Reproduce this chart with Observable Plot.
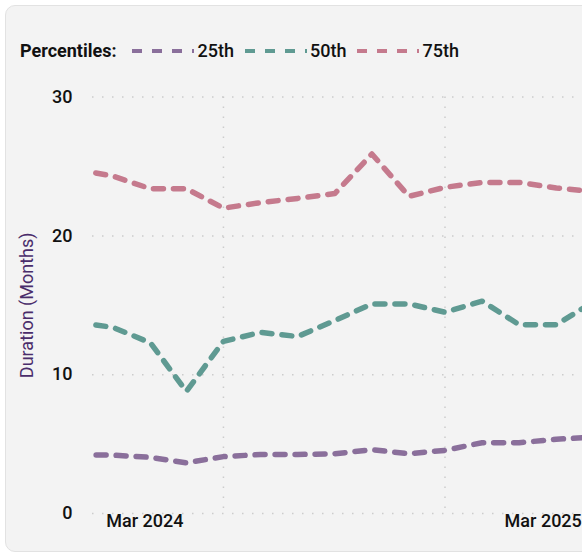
<!DOCTYPE html>
<html>
<head>
<meta charset="utf-8">
<script src="https://cdn.jsdelivr.net/npm/d3@7"></script>
<script src="https://cdn.jsdelivr.net/npm/@observablehq/plot@0.6"></script>
<style>
  html, body { margin: 0; padding: 0; background: #ffffff; width: 582px; height: 558px; overflow: hidden; }
  #card { position: absolute; left: 5px; top: 5px; width: 640px; height: 547px; background: #f3f3f3;
          border: 1.5px solid #e2e2e2; border-radius: 10px; box-sizing: border-box; }
  #legend { position: absolute; left: 20px; top: 41px; height: 20px; display: flex; align-items: center;
            font-family: Roboto, sans-serif; font-size: 18px; font-weight: 500; color: #111; line-height: 20px; }
  #legend .title { font-weight: bold; margin-right: 16px; }
  #legend .item { display: flex; align-items: center; margin-right: 11px; }
  #legend .item svg { margin-right: 3px; }
  #chart { position: absolute; left: 0; top: 70px; }
  #chart g[aria-label="y-axis tick label"] text, #chart g[aria-label="x-axis tick label"] text { font-weight: 500; }
  #chart g[aria-label="y-axis label"] text { fill: #4a2d6b; }
</style>
</head>
<body>
<div id="card"></div>
<div id="legend"></div>
<div id="chart"></div>
<script>
// Data
const dates = ["2023-12-29","2024-02-01","2024-03-06","2024-04-08","2024-05-12","2024-06-15","2024-07-19",
               "2024-08-22","2024-09-25","2024-10-29","2024-12-01","2025-01-04","2025-02-07","2025-03-13","2025-04-15"];
const p25 = [4.25, 4.2, 4.05, 3.65, 4.1, 4.25, 4.25, 4.3, 4.6, 4.3, 4.55, 5.1, 5.1, 5.35, 5.5];
const p50 = [13.8, 13.4, 12.3, 8.8, 12.4, 13.05, 12.75, 13.9, 15.1, 15.1, 14.5, 15.3, 13.6, 13.6, 15.2];
const p75 = [24.8, 24.3, 23.4, 23.4, 22.0, 22.4, 22.7, 23.05, 25.9, 22.85, 23.5, 23.85, 23.85, 23.45, 23.2];
const seriesNames = ["25th", "50th", "75th"];
const seriesColors = ["#8a6f9b", "#5f9a92", "#c57a8d"];
const yTicks = [0, 10, 20, 30];
const xLabelDates = ["2024-03-01", "2025-03-01"];
const xGridDates = ["2024-05-12", "2024-12-01"];
const xDomain = ["2024-01-13", "2025-04-06"];
const legendTitle = "Percentiles:";
const yTitle = "Duration (Months)";

const seriesValues = [p25, p50, p75];
const data = [];
seriesNames.forEach((name, s) => {
  dates.forEach((d, i) => data.push({date: new Date(d), value: seriesValues[s][i], series: name}));
});

// Legend
const legend = document.getElementById("legend");
const t = document.createElement("span");
t.className = "title";
t.textContent = legendTitle;
legend.appendChild(t);
seriesNames.forEach((name, i) => {
  const item = document.createElement("span");
  item.className = "item";
  item.innerHTML = `<svg width="62" height="6"><line x1="0" y1="3" x2="62" y2="3" stroke="${seriesColors[i]}" stroke-width="4" stroke-dasharray="10,10"/></svg><span>${name}</span>`;
  legend.appendChild(item);
});

const chart = Plot.plot({
  width: 582,
  height: 480,
  marginLeft: 92,
  marginRight: 0,
  marginTop: 26.6,
  marginBottom: 37,
  style: {background: "transparent", fontFamily: "Roboto, sans-serif", fontSize: "18px", color: "#111"},
  x: {type: "time", domain: xDomain.map(d => new Date(d))},
  y: {domain: [0, 30]},
  color: {domain: seriesNames, range: seriesColors},
  marks: [
    Plot.ruleY(yTicks, {stroke: "#cccccc", strokeWidth: 1.5, strokeDasharray: "1.5,8.5"}),
    Plot.ruleX(xGridDates.map(d => new Date(d)), {stroke: "#cccccc", strokeWidth: 1.5, strokeDasharray: "1.5,8.5"}),
    Plot.axisY({ticks: yTicks, tickSize: 0, tickPadding: 20, label: yTitle, labelAnchor: "center",
                labelArrow: "none", labelOffset: 72, fontSize: 18}),
    Plot.axisX({ticks: xLabelDates.map(d => new Date(d)), tickFormat: d3.utcFormat("%b %Y"), tickSize: 0,
                tickPadding: 1, label: null, fontSize: 18}),
    Plot.lineY(data, {x: "date", y: "value", stroke: "series", strokeWidth: 5.5, strokeDasharray: "10,10", clip: true})
  ]
});
document.getElementById("chart").appendChild(chart);
</script>
</body>
</html>
